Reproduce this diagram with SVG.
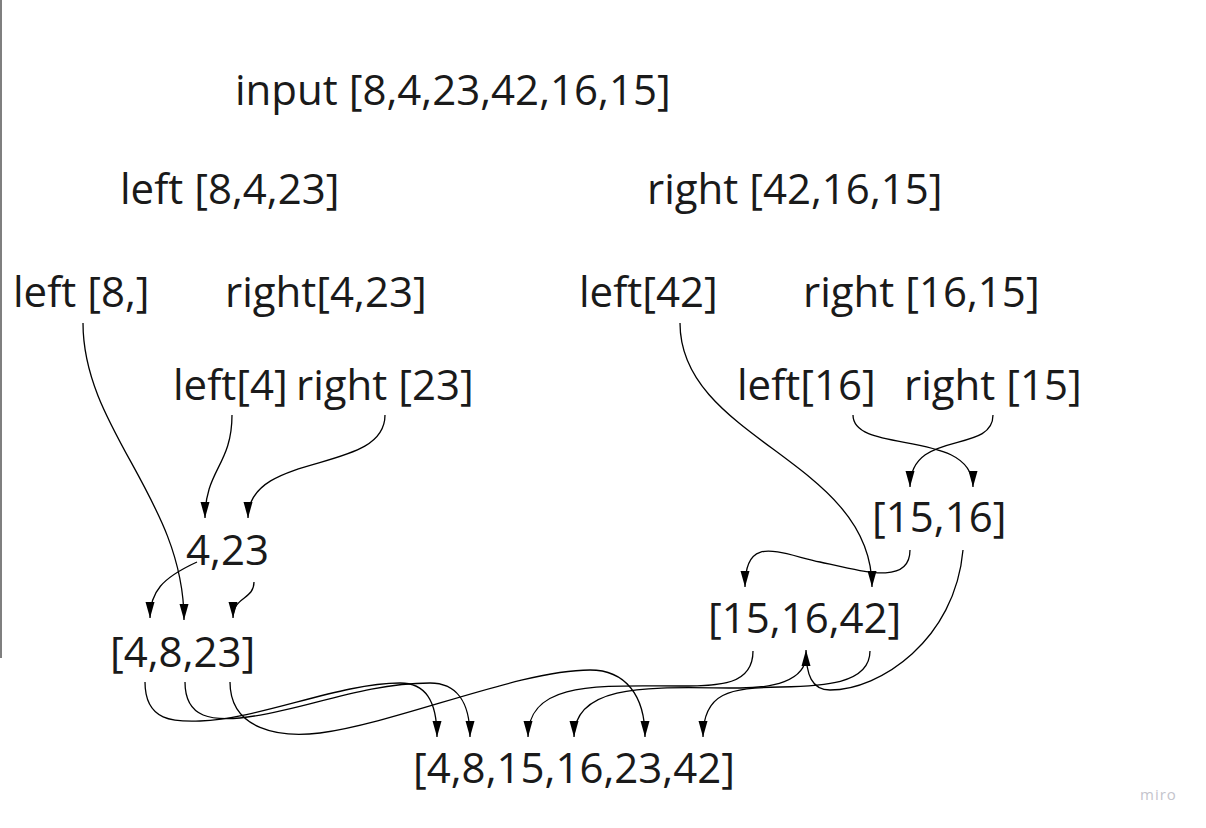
<svg xmlns="http://www.w3.org/2000/svg" width="1206" height="828" viewBox="0 0 1206 828">
<style>
.t{font-family:"Open Sans","Liberation Sans",sans-serif;font-size:42px;fill:#1a1a1a}
.c{fill:none;stroke:#000;stroke-width:1.3;marker-end:url(#ah)}
</style>
<defs>
<marker id="ah" viewBox="0 0 16 10" refX="16" refY="5" markerWidth="16" markerHeight="10" markerUnits="userSpaceOnUse" orient="auto">
<path d="M0,0.5 L16,5 L0,9.5 z" fill="#000"/>
</marker>
</defs>
<rect width="1206" height="828" fill="#fff"/>
<line x1="1" y1="0" x2="1" y2="658" stroke="#555" stroke-width="1.5"/>
<g id="n-input"><text class="t" x="235" y="105">input [8,4,23,42,16,15]</text></g>
<g id="n-left1"><text class="t" x="120" y="204">left [8,4,23]</text></g>
<g id="n-right1"><text class="t" x="647" y="204">right [42,16,15]</text></g>
<g id="n-left8"><text class="t" x="13" y="307">left [8,]</text></g>
<g id="n-right423"><text class="t" x="225" y="307">right[4,23]</text></g>
<g id="n-left42"><text class="t" x="579" y="307">left[42]</text></g>
<g id="n-right1615"><text class="t" x="803" y="307">right [16,15]</text></g>
<g id="n-left4"><text class="t" x="173" y="400">left[4]</text></g>
<g id="n-right23"><text class="t" x="296" y="400">right [23]</text></g>
<g id="n-left16"><text class="t" x="737" y="400">left[16]</text></g>
<g id="n-right15"><text class="t" x="904" y="400">right [15]</text></g>
<g id="n-423"><text class="t" x="186" y="565">4,23</text></g>
<g id="n-1516"><text class="t" x="872" y="532">[15,16]</text></g>
<g id="n-151642"><text class="t" x="708" y="633">[15,16,42]</text></g>
<g id="n-4823"><text class="t" x="110" y="667">[4,8,23]</text></g>
<g id="n-final"><text class="t" x="413" y="783">[4,8,15,16,23,42]</text></g>
<g id="connectors">
<path class="c" d="M83,323 C83,430 184,500 184,620"/>
<path class="c" d="M232,415 C232,465 205,470 205,518"/>
<path class="c" d="M385,415 C385,475 248,450 248,518"/>
<path class="c" d="M197,562 C162,578 150,592 150,618"/>
<path class="c" d="M254,582 C254,600 233,596 233,618"/>
<path class="c" d="M853,415 C853,455 973,428 973,487"/>
<path class="c" d="M993,415 C993,455 910,428 910,487"/>
<path class="c" d="M680,323 C680,440 872,460 872,587"/>
<path class="c" d="M910,550 C910,585 865,572 820,562 C775,552 745,535 745,587"/>
<path class="c" d="M963,550 C955,640 880,690 830,690 C812,690 806,675 806,650"/>
<path class="c" d="M145,682 C145,722 175,722 200,721 C260,719 340,683 400,683 C425,683 437,700 437,737"/>
<path class="c" d="M185,682 C185,720 215,720 240,718 C300,712 360,683 430,683 C455,683 470,700 470,737"/>
<path class="c" d="M230,682 C230,730 280,738 320,733 C400,722 520,670 590,670 C625,670 645,695 645,737"/>
<path class="c" d="M753,651 C753,685 720,686 680,686 C600,686 528,680 528,737"/>
<path class="c" d="M806,655 C806,682 770,688 740,688 C660,688 574,680 574,737"/>
<path class="c" d="M870,651 C870,685 820,686 780,687 C730,688 703,692 703,737"/>
</g>
<text x="1140" y="800" font-family="Open Sans, sans-serif" font-size="15" letter-spacing="1" fill="#c4c4cc">miro</text>
</svg>
